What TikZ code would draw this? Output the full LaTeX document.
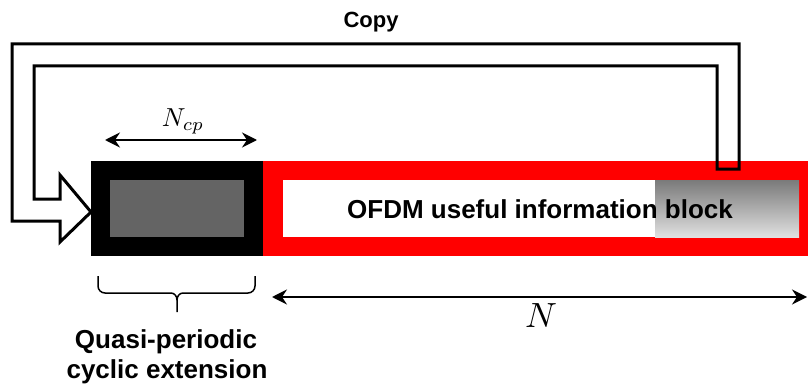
\documentclass[tikz,border=0pt]{standalone}
\usepackage{graphicx}
\usepackage{fontspec}
\setmainfont{Liberation Sans}
\usetikzlibrary{arrows.meta}
\definecolor{cpgray}{HTML}{646464}
\definecolor{shadetop}{HTML}{7A7A7A}
\definecolor{shadebot}{HTML}{E0E0E0}
\tikzset{
  box/.style={inner sep=0pt, outer sep=0pt, draw=none, anchor=north west},
  lbl/.style={font=\bfseries\fontsize{26}{30}\selectfont, inner sep=0pt},
  dimline/.style={line width=1.8pt,
    {Stealth[length=15pt,width=15pt,inset=5pt]}-{Stealth[length=15pt,width=15pt,inset=5pt]}},
  copyline/.style={line width=3pt, line join=miter},
  brc/.style={line width=1.5pt},
}
\begin{document}
\begin{tikzpicture}[x=1pt,y=-1pt]
\useasboundingbox (0,0) rectangle (808,385);

% cyclic prefix block
\node[box, fill=black, minimum width=172pt, minimum height=95pt] (cp) at (91,161) {};
\node[box, fill=cpgray, minimum width=134pt, minimum height=57pt] (cpin) at (110,180) {};

% useful OFDM symbol
\node[box, fill=red, minimum width=545pt, minimum height=95pt] (ofdm) at (263,161) {};
\node[box, fill=white, minimum width=516pt, minimum height=57pt] (ofdmin) at (283,180) {};
\node[box, top color=shadetop, bottom color=shadebot, minimum width=144pt, minimum height=57pt] (tail) at (655,180) {};
\node[lbl, anchor=base] (ofdmtxt) at (540,218) {OFDM useful information block};

% copy arrow from the tail back to the prefix
\draw[copyline] (717,169) -- (717,66) -- (34,66) -- (34,199) -- (60,199) -- (60,175)
  -- (91,212) -- (60,242) -- (60,221) -- (12,221) -- (12,44) -- (739,44) -- (739,169) -- cycle;
\node[font=\bfseries\fontsize{22}{26}\selectfont, inner sep=0pt, anchor=base] (copy) at (371,28) {Copy};

% prefix length
\coordinate (ncpL) at (105,140);
\coordinate (ncpR) at (257,140);
\draw[dimline] (ncpL) -- (ncpR);
\node[inner sep=0pt, anchor=base] (ncp) at (183,127) {\scalebox{2.6}{$N_{cp}$}};

% symbol length
\coordinate (nL) at (272,297);
\coordinate (nR) at (807,297);
\draw[dimline] (nL) -- (nR);
\node[inner sep=0pt, anchor=base] (nlbl) at (541,327) {\scalebox{3.5}{$N$}};

% brace under the prefix
\draw[brc, rounded corners=7pt] (98,276) -- (98,293) -- (171,293);
\draw[brc] (171,293) to[out=0,in=90] (177,300) -- (177,312);
\draw[brc, rounded corners=7pt] (255,276) -- (255,293) -- (183,293);
\draw[brc] (183,293) to[out=180,in=90] (177,300);

\node[lbl, anchor=base] (qp) at (166,348) {Quasi-periodic};
\node[lbl, anchor=base] (ce) at (167,378) {cyclic extension};
\end{tikzpicture}
\end{document}
